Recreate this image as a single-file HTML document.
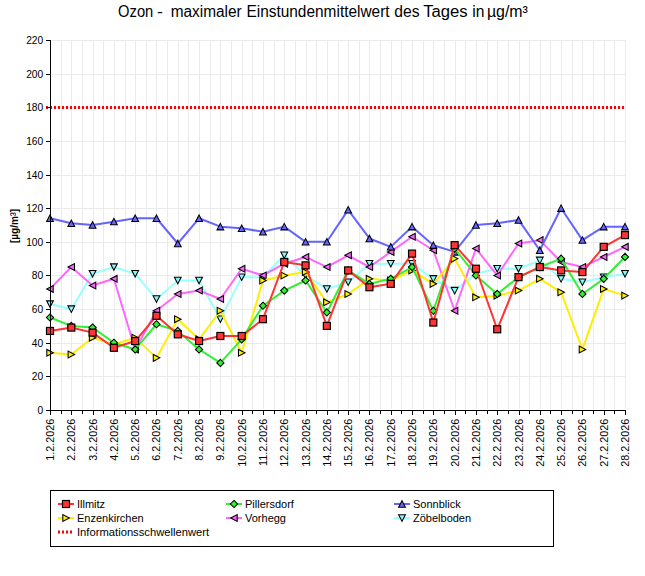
<!DOCTYPE html>
<html><head><meta charset="utf-8"><style>
html,body{margin:0;padding:0;background:#fff;}
body{width:645px;height:576px;overflow:hidden;}
svg{display:block;font-family:"Liberation Sans",sans-serif;}
</style></head><body>
<svg width="645" height="576" viewBox="0 0 645 576">
<rect width="645" height="576" fill="#fff"/>

<text x="118.10" y="17" font-size="16" textLength="35.15" lengthAdjust="spacingAndGlyphs" fill="#000">Ozon</text>
<text x="157.02" y="17" font-size="16" textLength="5.87" lengthAdjust="spacingAndGlyphs" fill="#000">-</text>
<text x="170.68" y="17" font-size="16" textLength="71.08" lengthAdjust="spacingAndGlyphs" fill="#000">maximaler</text>
<text x="246.43" y="17" font-size="16" textLength="143.18" lengthAdjust="spacingAndGlyphs" fill="#000">Einstundenmittelwert</text>
<text x="394.34" y="17" font-size="16" textLength="25.22" lengthAdjust="spacingAndGlyphs" fill="#000">des</text>
<text x="423.24" y="17" font-size="16" textLength="44.44" lengthAdjust="spacingAndGlyphs" fill="#000">Tages</text>
<text x="472.25" y="17" font-size="16" textLength="12.16" lengthAdjust="spacingAndGlyphs" fill="#000">in</text>
<text x="486.91" y="17" font-size="16" textLength="41.00" lengthAdjust="spacingAndGlyphs" fill="#000">µg/m³</text>
<path d="M61.5 40V409 M71.5 40V409 M82.5 40V409 M93.5 40V409 M103.5 40V409 M114.5 40V409 M125.5 40V409 M135.5 40V409 M146.5 40V409 M156.5 40V409 M167.5 40V409 M178.5 40V409 M188.5 40V409 M199.5 40V409 M210.5 40V409 M220.5 40V409 M231.5 40V409 M242.5 40V409 M252.5 40V409 M263.5 40V409 M274.5 40V409 M284.5 40V409 M295.5 40V409 M306.5 40V409 M316.5 40V409 M327.5 40V409 M338.5 40V409 M348.5 40V409 M359.5 40V409 M369.5 40V409 M380.5 40V409 M391.5 40V409 M401.5 40V409 M412.5 40V409 M423.5 40V409 M433.5 40V409 M444.5 40V409 M455.5 40V409 M465.5 40V409 M476.5 40V409 M487.5 40V409 M497.5 40V409 M508.5 40V409 M519.5 40V409 M529.5 40V409 M540.5 40V409 M550.5 40V409 M561.5 40V409 M572.5 40V409 M582.5 40V409 M593.5 40V409 M604.5 40V409 M614.5 40V409 M625.5 40V409 M52 376.5H625 M52 343.5H625 M52 309.5H625 M52 275.5H625 M52 242.5H625 M52 208.5H625 M52 175.5H625 M52 141.5H625 M52 107.5H625 M52 74.5H625 M52 40.5H625" stroke="#ebebeb" stroke-width="1" fill="none" shape-rendering="crispEdges"/>
<path d="M46 107.5H625" stroke="#ff0000" stroke-width="3" stroke-dasharray="2 2" fill="none"/>
<text transform="translate(43.2,414.00) scale(0.93,1)" font-size="11" text-anchor="end" fill="#000">0</text>
<text transform="translate(43.2,380.36) scale(0.93,1)" font-size="11" text-anchor="end" fill="#000">20</text>
<text transform="translate(43.2,346.73) scale(0.93,1)" font-size="11" text-anchor="end" fill="#000">40</text>
<text transform="translate(43.2,313.09) scale(0.93,1)" font-size="11" text-anchor="end" fill="#000">60</text>
<text transform="translate(43.2,279.45) scale(0.93,1)" font-size="11" text-anchor="end" fill="#000">80</text>
<text transform="translate(43.2,245.82) scale(0.93,1)" font-size="11" text-anchor="end" fill="#000">100</text>
<text transform="translate(43.2,212.18) scale(0.93,1)" font-size="11" text-anchor="end" fill="#000">120</text>
<text transform="translate(43.2,178.55) scale(0.93,1)" font-size="11" text-anchor="end" fill="#000">140</text>
<text transform="translate(43.2,144.91) scale(0.93,1)" font-size="11" text-anchor="end" fill="#000">160</text>
<text transform="translate(43.2,111.27) scale(0.93,1)" font-size="11" text-anchor="end" fill="#000">180</text>
<text transform="translate(43.2,77.64) scale(0.93,1)" font-size="11" text-anchor="end" fill="#000">200</text>
<text transform="translate(43.2,44.00) scale(0.93,1)" font-size="11" text-anchor="end" fill="#000">220</text>
<text transform="translate(18.4,226.0) rotate(-90)" font-size="10" font-weight="bold" text-anchor="middle" fill="#000">[µg/m<tspan font-size="12" font-weight="normal" dx="-0.2" dy="0.6">³</tspan><tspan dy="-0.6">]</tspan></text>
<text transform="translate(54.00,418.8) rotate(-90) scale(0.98,0.92)" font-size="11" text-anchor="end" fill="#000">1.2.2026</text>
<text transform="translate(75.30,418.8) rotate(-90) scale(0.98,0.92)" font-size="11" text-anchor="end" fill="#000">2.2.2026</text>
<text transform="translate(96.59,418.8) rotate(-90) scale(0.98,0.92)" font-size="11" text-anchor="end" fill="#000">3.2.2026</text>
<text transform="translate(117.89,418.8) rotate(-90) scale(0.98,0.92)" font-size="11" text-anchor="end" fill="#000">4.2.2026</text>
<text transform="translate(139.19,418.8) rotate(-90) scale(0.98,0.92)" font-size="11" text-anchor="end" fill="#000">5.2.2026</text>
<text transform="translate(160.48,418.8) rotate(-90) scale(0.98,0.92)" font-size="11" text-anchor="end" fill="#000">6.2.2026</text>
<text transform="translate(181.78,418.8) rotate(-90) scale(0.98,0.92)" font-size="11" text-anchor="end" fill="#000">7.2.2026</text>
<text transform="translate(203.07,418.8) rotate(-90) scale(0.98,0.92)" font-size="11" text-anchor="end" fill="#000">8.2.2026</text>
<text transform="translate(224.37,418.8) rotate(-90) scale(0.98,0.92)" font-size="11" text-anchor="end" fill="#000">9.2.2026</text>
<text transform="translate(245.67,418.8) rotate(-90) scale(0.98,0.92)" font-size="11" text-anchor="end" fill="#000">10.2.2026</text>
<text transform="translate(266.96,418.8) rotate(-90) scale(0.98,0.92)" font-size="11" text-anchor="end" fill="#000">11.2.2026</text>
<text transform="translate(288.26,418.8) rotate(-90) scale(0.98,0.92)" font-size="11" text-anchor="end" fill="#000">12.2.2026</text>
<text transform="translate(309.56,418.8) rotate(-90) scale(0.98,0.92)" font-size="11" text-anchor="end" fill="#000">13.2.2026</text>
<text transform="translate(330.85,418.8) rotate(-90) scale(0.98,0.92)" font-size="11" text-anchor="end" fill="#000">14.2.2026</text>
<text transform="translate(352.15,418.8) rotate(-90) scale(0.98,0.92)" font-size="11" text-anchor="end" fill="#000">15.2.2026</text>
<text transform="translate(373.44,418.8) rotate(-90) scale(0.98,0.92)" font-size="11" text-anchor="end" fill="#000">16.2.2026</text>
<text transform="translate(394.74,418.8) rotate(-90) scale(0.98,0.92)" font-size="11" text-anchor="end" fill="#000">17.2.2026</text>
<text transform="translate(416.04,418.8) rotate(-90) scale(0.98,0.92)" font-size="11" text-anchor="end" fill="#000">18.2.2026</text>
<text transform="translate(437.33,418.8) rotate(-90) scale(0.98,0.92)" font-size="11" text-anchor="end" fill="#000">19.2.2026</text>
<text transform="translate(458.63,418.8) rotate(-90) scale(0.98,0.92)" font-size="11" text-anchor="end" fill="#000">20.2.2026</text>
<text transform="translate(479.93,418.8) rotate(-90) scale(0.98,0.92)" font-size="11" text-anchor="end" fill="#000">21.2.2026</text>
<text transform="translate(501.22,418.8) rotate(-90) scale(0.98,0.92)" font-size="11" text-anchor="end" fill="#000">22.2.2026</text>
<text transform="translate(522.52,418.8) rotate(-90) scale(0.98,0.92)" font-size="11" text-anchor="end" fill="#000">23.2.2026</text>
<text transform="translate(543.81,418.8) rotate(-90) scale(0.98,0.92)" font-size="11" text-anchor="end" fill="#000">24.2.2026</text>
<text transform="translate(565.11,418.8) rotate(-90) scale(0.98,0.92)" font-size="11" text-anchor="end" fill="#000">25.2.2026</text>
<text transform="translate(586.41,418.8) rotate(-90) scale(0.98,0.92)" font-size="11" text-anchor="end" fill="#000">26.2.2026</text>
<text transform="translate(607.70,418.8) rotate(-90) scale(0.98,0.92)" font-size="11" text-anchor="end" fill="#000">27.2.2026</text>
<text transform="translate(629.00,418.8) rotate(-90) scale(0.98,0.92)" font-size="11" text-anchor="end" fill="#000">28.2.2026</text>
<polyline points="50.00,304.05 71.30,309.09 92.59,273.77 113.89,267.05 135.19,273.77 156.48,299.00 177.78,280.50 199.07,280.50 220.37,319.18 241.67,277.14 262.96,277.14 284.26,255.27 305.56,275.45 326.85,288.91 348.15,282.18 369.44,263.68 390.74,263.68 412.04,263.68 433.33,278.82 454.63,290.59 475.93,273.77 497.22,268.73 518.52,268.73 539.81,260.32 561.11,278.82 582.41,282.18 603.70,277.14 625.00,273.77" fill="none" stroke="#99ffff" stroke-width="2.0" stroke-linejoin="round"/>
<polygon points="50.00,307.35 53.40,300.85 46.60,300.85" fill="#8cf6f6" stroke="#000" stroke-width="1.05" stroke-linejoin="miter"/>
<polygon points="71.30,312.39 74.70,305.89 67.90,305.89" fill="#8cf6f6" stroke="#000" stroke-width="1.05" stroke-linejoin="miter"/>
<polygon points="92.59,277.07 95.99,270.57 89.19,270.57" fill="#8cf6f6" stroke="#000" stroke-width="1.05" stroke-linejoin="miter"/>
<polygon points="113.89,270.35 117.29,263.85 110.49,263.85" fill="#8cf6f6" stroke="#000" stroke-width="1.05" stroke-linejoin="miter"/>
<polygon points="135.19,277.07 138.59,270.57 131.79,270.57" fill="#8cf6f6" stroke="#000" stroke-width="1.05" stroke-linejoin="miter"/>
<polygon points="156.48,302.30 159.88,295.80 153.08,295.80" fill="#8cf6f6" stroke="#000" stroke-width="1.05" stroke-linejoin="miter"/>
<polygon points="177.78,283.80 181.18,277.30 174.38,277.30" fill="#8cf6f6" stroke="#000" stroke-width="1.05" stroke-linejoin="miter"/>
<polygon points="199.07,283.80 202.47,277.30 195.67,277.30" fill="#8cf6f6" stroke="#000" stroke-width="1.05" stroke-linejoin="miter"/>
<polygon points="220.37,322.48 223.77,315.98 216.97,315.98" fill="#8cf6f6" stroke="#000" stroke-width="1.05" stroke-linejoin="miter"/>
<polygon points="241.67,280.44 245.07,273.94 238.27,273.94" fill="#8cf6f6" stroke="#000" stroke-width="1.05" stroke-linejoin="miter"/>
<polygon points="262.96,280.44 266.36,273.94 259.56,273.94" fill="#8cf6f6" stroke="#000" stroke-width="1.05" stroke-linejoin="miter"/>
<polygon points="284.26,258.57 287.66,252.07 280.86,252.07" fill="#8cf6f6" stroke="#000" stroke-width="1.05" stroke-linejoin="miter"/>
<polygon points="305.56,278.75 308.96,272.25 302.16,272.25" fill="#8cf6f6" stroke="#000" stroke-width="1.05" stroke-linejoin="miter"/>
<polygon points="326.85,292.21 330.25,285.71 323.45,285.71" fill="#8cf6f6" stroke="#000" stroke-width="1.05" stroke-linejoin="miter"/>
<polygon points="348.15,285.48 351.55,278.98 344.75,278.98" fill="#8cf6f6" stroke="#000" stroke-width="1.05" stroke-linejoin="miter"/>
<polygon points="369.44,266.98 372.84,260.48 366.04,260.48" fill="#8cf6f6" stroke="#000" stroke-width="1.05" stroke-linejoin="miter"/>
<polygon points="390.74,266.98 394.14,260.48 387.34,260.48" fill="#8cf6f6" stroke="#000" stroke-width="1.05" stroke-linejoin="miter"/>
<polygon points="412.04,266.98 415.44,260.48 408.64,260.48" fill="#8cf6f6" stroke="#000" stroke-width="1.05" stroke-linejoin="miter"/>
<polygon points="433.33,282.12 436.73,275.62 429.93,275.62" fill="#8cf6f6" stroke="#000" stroke-width="1.05" stroke-linejoin="miter"/>
<polygon points="454.63,293.89 458.03,287.39 451.23,287.39" fill="#8cf6f6" stroke="#000" stroke-width="1.05" stroke-linejoin="miter"/>
<polygon points="475.93,277.07 479.33,270.57 472.53,270.57" fill="#8cf6f6" stroke="#000" stroke-width="1.05" stroke-linejoin="miter"/>
<polygon points="497.22,272.03 500.62,265.53 493.82,265.53" fill="#8cf6f6" stroke="#000" stroke-width="1.05" stroke-linejoin="miter"/>
<polygon points="518.52,272.03 521.92,265.53 515.12,265.53" fill="#8cf6f6" stroke="#000" stroke-width="1.05" stroke-linejoin="miter"/>
<polygon points="539.81,263.62 543.21,257.12 536.41,257.12" fill="#8cf6f6" stroke="#000" stroke-width="1.05" stroke-linejoin="miter"/>
<polygon points="561.11,282.12 564.51,275.62 557.71,275.62" fill="#8cf6f6" stroke="#000" stroke-width="1.05" stroke-linejoin="miter"/>
<polygon points="582.41,285.48 585.81,278.98 579.01,278.98" fill="#8cf6f6" stroke="#000" stroke-width="1.05" stroke-linejoin="miter"/>
<polygon points="603.70,280.44 607.10,273.94 600.30,273.94" fill="#8cf6f6" stroke="#000" stroke-width="1.05" stroke-linejoin="miter"/>
<polygon points="625.00,277.07 628.40,270.57 621.60,270.57" fill="#8cf6f6" stroke="#000" stroke-width="1.05" stroke-linejoin="miter"/>
<polyline points="50.00,288.91 71.30,267.05 92.59,285.55 113.89,278.82 135.19,349.45 156.48,310.77 177.78,293.95 199.07,290.59 220.37,299.00 241.67,268.73 262.96,275.45 284.26,263.68 305.56,256.95 326.85,267.05 348.15,255.27 369.44,267.05 390.74,251.91 412.04,236.77 433.33,250.23 454.63,310.77 475.93,248.55 497.22,275.45 518.52,243.50 539.81,240.14 561.11,262.00 582.41,267.05 603.70,256.95 625.00,246.86" fill="none" stroke="#ff66ff" stroke-width="2.0" stroke-linejoin="round"/>
<polygon points="46.70,288.91 53.20,292.31 53.20,285.51" fill="#f266f2" stroke="#000" stroke-width="1.05" stroke-linejoin="miter"/>
<polygon points="68.00,267.05 74.50,270.45 74.50,263.65" fill="#f266f2" stroke="#000" stroke-width="1.05" stroke-linejoin="miter"/>
<polygon points="89.29,285.55 95.79,288.95 95.79,282.15" fill="#f266f2" stroke="#000" stroke-width="1.05" stroke-linejoin="miter"/>
<polygon points="110.59,278.82 117.09,282.22 117.09,275.42" fill="#f266f2" stroke="#000" stroke-width="1.05" stroke-linejoin="miter"/>
<polygon points="131.89,349.45 138.39,352.85 138.39,346.05" fill="#f266f2" stroke="#000" stroke-width="1.05" stroke-linejoin="miter"/>
<polygon points="153.18,310.77 159.68,314.17 159.68,307.37" fill="#f266f2" stroke="#000" stroke-width="1.05" stroke-linejoin="miter"/>
<polygon points="174.48,293.95 180.98,297.35 180.98,290.55" fill="#f266f2" stroke="#000" stroke-width="1.05" stroke-linejoin="miter"/>
<polygon points="195.77,290.59 202.27,293.99 202.27,287.19" fill="#f266f2" stroke="#000" stroke-width="1.05" stroke-linejoin="miter"/>
<polygon points="217.07,299.00 223.57,302.40 223.57,295.60" fill="#f266f2" stroke="#000" stroke-width="1.05" stroke-linejoin="miter"/>
<polygon points="238.37,268.73 244.87,272.13 244.87,265.33" fill="#f266f2" stroke="#000" stroke-width="1.05" stroke-linejoin="miter"/>
<polygon points="259.66,275.45 266.16,278.85 266.16,272.05" fill="#f266f2" stroke="#000" stroke-width="1.05" stroke-linejoin="miter"/>
<polygon points="280.96,263.68 287.46,267.08 287.46,260.28" fill="#f266f2" stroke="#000" stroke-width="1.05" stroke-linejoin="miter"/>
<polygon points="302.26,256.95 308.76,260.35 308.76,253.55" fill="#f266f2" stroke="#000" stroke-width="1.05" stroke-linejoin="miter"/>
<polygon points="323.55,267.05 330.05,270.45 330.05,263.65" fill="#f266f2" stroke="#000" stroke-width="1.05" stroke-linejoin="miter"/>
<polygon points="344.85,255.27 351.35,258.67 351.35,251.87" fill="#f266f2" stroke="#000" stroke-width="1.05" stroke-linejoin="miter"/>
<polygon points="366.14,267.05 372.64,270.45 372.64,263.65" fill="#f266f2" stroke="#000" stroke-width="1.05" stroke-linejoin="miter"/>
<polygon points="387.44,251.91 393.94,255.31 393.94,248.51" fill="#f266f2" stroke="#000" stroke-width="1.05" stroke-linejoin="miter"/>
<polygon points="408.74,236.77 415.24,240.17 415.24,233.37" fill="#f266f2" stroke="#000" stroke-width="1.05" stroke-linejoin="miter"/>
<polygon points="430.03,250.23 436.53,253.63 436.53,246.83" fill="#f266f2" stroke="#000" stroke-width="1.05" stroke-linejoin="miter"/>
<polygon points="451.33,310.77 457.83,314.17 457.83,307.37" fill="#f266f2" stroke="#000" stroke-width="1.05" stroke-linejoin="miter"/>
<polygon points="472.63,248.55 479.13,251.95 479.13,245.15" fill="#f266f2" stroke="#000" stroke-width="1.05" stroke-linejoin="miter"/>
<polygon points="493.92,275.45 500.42,278.85 500.42,272.05" fill="#f266f2" stroke="#000" stroke-width="1.05" stroke-linejoin="miter"/>
<polygon points="515.22,243.50 521.72,246.90 521.72,240.10" fill="#f266f2" stroke="#000" stroke-width="1.05" stroke-linejoin="miter"/>
<polygon points="536.51,240.14 543.01,243.54 543.01,236.74" fill="#f266f2" stroke="#000" stroke-width="1.05" stroke-linejoin="miter"/>
<polygon points="557.81,262.00 564.31,265.40 564.31,258.60" fill="#f266f2" stroke="#000" stroke-width="1.05" stroke-linejoin="miter"/>
<polygon points="579.11,267.05 585.61,270.45 585.61,263.65" fill="#f266f2" stroke="#000" stroke-width="1.05" stroke-linejoin="miter"/>
<polygon points="600.40,256.95 606.90,260.35 606.90,253.55" fill="#f266f2" stroke="#000" stroke-width="1.05" stroke-linejoin="miter"/>
<polygon points="621.70,246.86 628.20,250.26 628.20,243.46" fill="#f266f2" stroke="#000" stroke-width="1.05" stroke-linejoin="miter"/>
<polyline points="50.00,352.82 71.30,354.50 92.59,337.68 113.89,344.41 135.19,337.68 156.48,357.86 177.78,319.18 199.07,339.36 220.37,310.77 241.67,352.82 262.96,280.50 284.26,275.45 305.56,272.09 326.85,302.36 348.15,293.95 369.44,278.82 390.74,280.50 412.04,270.41 433.33,283.86 454.63,258.64 475.93,297.32 497.22,295.64 518.52,290.59 539.81,278.82 561.11,292.27 582.41,349.45 603.70,288.91 625.00,295.64" fill="none" stroke="#ffee00" stroke-width="2.0" stroke-linejoin="round"/>
<polygon points="53.30,352.82 46.80,356.22 46.80,349.42" fill="#ffee00" stroke="#000" stroke-width="1.05" stroke-linejoin="miter"/>
<polygon points="74.60,354.50 68.10,357.90 68.10,351.10" fill="#ffee00" stroke="#000" stroke-width="1.05" stroke-linejoin="miter"/>
<polygon points="95.89,337.68 89.39,341.08 89.39,334.28" fill="#ffee00" stroke="#000" stroke-width="1.05" stroke-linejoin="miter"/>
<polygon points="117.19,344.41 110.69,347.81 110.69,341.01" fill="#ffee00" stroke="#000" stroke-width="1.05" stroke-linejoin="miter"/>
<polygon points="138.49,337.68 131.99,341.08 131.99,334.28" fill="#ffee00" stroke="#000" stroke-width="1.05" stroke-linejoin="miter"/>
<polygon points="159.78,357.86 153.28,361.26 153.28,354.46" fill="#ffee00" stroke="#000" stroke-width="1.05" stroke-linejoin="miter"/>
<polygon points="181.08,319.18 174.58,322.58 174.58,315.78" fill="#ffee00" stroke="#000" stroke-width="1.05" stroke-linejoin="miter"/>
<polygon points="202.37,339.36 195.87,342.76 195.87,335.96" fill="#ffee00" stroke="#000" stroke-width="1.05" stroke-linejoin="miter"/>
<polygon points="223.67,310.77 217.17,314.17 217.17,307.37" fill="#ffee00" stroke="#000" stroke-width="1.05" stroke-linejoin="miter"/>
<polygon points="244.97,352.82 238.47,356.22 238.47,349.42" fill="#ffee00" stroke="#000" stroke-width="1.05" stroke-linejoin="miter"/>
<polygon points="266.26,280.50 259.76,283.90 259.76,277.10" fill="#ffee00" stroke="#000" stroke-width="1.05" stroke-linejoin="miter"/>
<polygon points="287.56,275.45 281.06,278.85 281.06,272.05" fill="#ffee00" stroke="#000" stroke-width="1.05" stroke-linejoin="miter"/>
<polygon points="308.86,272.09 302.36,275.49 302.36,268.69" fill="#ffee00" stroke="#000" stroke-width="1.05" stroke-linejoin="miter"/>
<polygon points="330.15,302.36 323.65,305.76 323.65,298.96" fill="#ffee00" stroke="#000" stroke-width="1.05" stroke-linejoin="miter"/>
<polygon points="351.45,293.95 344.95,297.35 344.95,290.55" fill="#ffee00" stroke="#000" stroke-width="1.05" stroke-linejoin="miter"/>
<polygon points="372.74,278.82 366.24,282.22 366.24,275.42" fill="#ffee00" stroke="#000" stroke-width="1.05" stroke-linejoin="miter"/>
<polygon points="394.04,280.50 387.54,283.90 387.54,277.10" fill="#ffee00" stroke="#000" stroke-width="1.05" stroke-linejoin="miter"/>
<polygon points="415.34,270.41 408.84,273.81 408.84,267.01" fill="#ffee00" stroke="#000" stroke-width="1.05" stroke-linejoin="miter"/>
<polygon points="436.63,283.86 430.13,287.26 430.13,280.46" fill="#ffee00" stroke="#000" stroke-width="1.05" stroke-linejoin="miter"/>
<polygon points="457.93,258.64 451.43,262.04 451.43,255.24" fill="#ffee00" stroke="#000" stroke-width="1.05" stroke-linejoin="miter"/>
<polygon points="479.23,297.32 472.73,300.72 472.73,293.92" fill="#ffee00" stroke="#000" stroke-width="1.05" stroke-linejoin="miter"/>
<polygon points="500.52,295.64 494.02,299.04 494.02,292.24" fill="#ffee00" stroke="#000" stroke-width="1.05" stroke-linejoin="miter"/>
<polygon points="521.82,290.59 515.32,293.99 515.32,287.19" fill="#ffee00" stroke="#000" stroke-width="1.05" stroke-linejoin="miter"/>
<polygon points="543.11,278.82 536.61,282.22 536.61,275.42" fill="#ffee00" stroke="#000" stroke-width="1.05" stroke-linejoin="miter"/>
<polygon points="564.41,292.27 557.91,295.67 557.91,288.87" fill="#ffee00" stroke="#000" stroke-width="1.05" stroke-linejoin="miter"/>
<polygon points="585.71,349.45 579.21,352.85 579.21,346.05" fill="#ffee00" stroke="#000" stroke-width="1.05" stroke-linejoin="miter"/>
<polygon points="607.00,288.91 600.50,292.31 600.50,285.51" fill="#ffee00" stroke="#000" stroke-width="1.05" stroke-linejoin="miter"/>
<polygon points="628.30,295.64 621.80,299.04 621.80,292.24" fill="#ffee00" stroke="#000" stroke-width="1.05" stroke-linejoin="miter"/>
<polyline points="50.00,218.27 71.30,223.32 92.59,225.00 113.89,221.64 135.19,218.27 156.48,218.27 177.78,243.50 199.07,218.27 220.37,226.68 241.67,228.36 262.96,231.73 284.26,226.68 305.56,241.82 326.85,241.82 348.15,209.86 369.44,238.45 390.74,246.86 412.04,226.68 433.33,245.18 454.63,251.91 475.93,225.00 497.22,223.32 518.52,219.95 539.81,250.23 561.11,208.18 582.41,240.14 603.70,226.68 625.00,226.68" fill="none" stroke="#6464ff" stroke-width="2.0" stroke-linejoin="round"/>
<polygon points="50.00,214.97 53.40,221.47 46.60,221.47" fill="#6666ff" stroke="#000" stroke-width="1.05" stroke-linejoin="miter"/>
<polygon points="71.30,220.02 74.70,226.52 67.90,226.52" fill="#6666ff" stroke="#000" stroke-width="1.05" stroke-linejoin="miter"/>
<polygon points="92.59,221.70 95.99,228.20 89.19,228.20" fill="#6666ff" stroke="#000" stroke-width="1.05" stroke-linejoin="miter"/>
<polygon points="113.89,218.34 117.29,224.84 110.49,224.84" fill="#6666ff" stroke="#000" stroke-width="1.05" stroke-linejoin="miter"/>
<polygon points="135.19,214.97 138.59,221.47 131.79,221.47" fill="#6666ff" stroke="#000" stroke-width="1.05" stroke-linejoin="miter"/>
<polygon points="156.48,214.97 159.88,221.47 153.08,221.47" fill="#6666ff" stroke="#000" stroke-width="1.05" stroke-linejoin="miter"/>
<polygon points="177.78,240.20 181.18,246.70 174.38,246.70" fill="#6666ff" stroke="#000" stroke-width="1.05" stroke-linejoin="miter"/>
<polygon points="199.07,214.97 202.47,221.47 195.67,221.47" fill="#6666ff" stroke="#000" stroke-width="1.05" stroke-linejoin="miter"/>
<polygon points="220.37,223.38 223.77,229.88 216.97,229.88" fill="#6666ff" stroke="#000" stroke-width="1.05" stroke-linejoin="miter"/>
<polygon points="241.67,225.06 245.07,231.56 238.27,231.56" fill="#6666ff" stroke="#000" stroke-width="1.05" stroke-linejoin="miter"/>
<polygon points="262.96,228.43 266.36,234.93 259.56,234.93" fill="#6666ff" stroke="#000" stroke-width="1.05" stroke-linejoin="miter"/>
<polygon points="284.26,223.38 287.66,229.88 280.86,229.88" fill="#6666ff" stroke="#000" stroke-width="1.05" stroke-linejoin="miter"/>
<polygon points="305.56,238.52 308.96,245.02 302.16,245.02" fill="#6666ff" stroke="#000" stroke-width="1.05" stroke-linejoin="miter"/>
<polygon points="326.85,238.52 330.25,245.02 323.45,245.02" fill="#6666ff" stroke="#000" stroke-width="1.05" stroke-linejoin="miter"/>
<polygon points="348.15,206.56 351.55,213.06 344.75,213.06" fill="#6666ff" stroke="#000" stroke-width="1.05" stroke-linejoin="miter"/>
<polygon points="369.44,235.15 372.84,241.65 366.04,241.65" fill="#6666ff" stroke="#000" stroke-width="1.05" stroke-linejoin="miter"/>
<polygon points="390.74,243.56 394.14,250.06 387.34,250.06" fill="#6666ff" stroke="#000" stroke-width="1.05" stroke-linejoin="miter"/>
<polygon points="412.04,223.38 415.44,229.88 408.64,229.88" fill="#6666ff" stroke="#000" stroke-width="1.05" stroke-linejoin="miter"/>
<polygon points="433.33,241.88 436.73,248.38 429.93,248.38" fill="#6666ff" stroke="#000" stroke-width="1.05" stroke-linejoin="miter"/>
<polygon points="454.63,248.61 458.03,255.11 451.23,255.11" fill="#6666ff" stroke="#000" stroke-width="1.05" stroke-linejoin="miter"/>
<polygon points="475.93,221.70 479.33,228.20 472.53,228.20" fill="#6666ff" stroke="#000" stroke-width="1.05" stroke-linejoin="miter"/>
<polygon points="497.22,220.02 500.62,226.52 493.82,226.52" fill="#6666ff" stroke="#000" stroke-width="1.05" stroke-linejoin="miter"/>
<polygon points="518.52,216.65 521.92,223.15 515.12,223.15" fill="#6666ff" stroke="#000" stroke-width="1.05" stroke-linejoin="miter"/>
<polygon points="539.81,246.93 543.21,253.43 536.41,253.43" fill="#6666ff" stroke="#000" stroke-width="1.05" stroke-linejoin="miter"/>
<polygon points="561.11,204.88 564.51,211.38 557.71,211.38" fill="#6666ff" stroke="#000" stroke-width="1.05" stroke-linejoin="miter"/>
<polygon points="582.41,236.84 585.81,243.34 579.01,243.34" fill="#6666ff" stroke="#000" stroke-width="1.05" stroke-linejoin="miter"/>
<polygon points="603.70,223.38 607.10,229.88 600.30,229.88" fill="#6666ff" stroke="#000" stroke-width="1.05" stroke-linejoin="miter"/>
<polygon points="625.00,223.38 628.40,229.88 621.60,229.88" fill="#6666ff" stroke="#000" stroke-width="1.05" stroke-linejoin="miter"/>
<polyline points="50.00,317.50 71.30,325.91 92.59,327.59 113.89,342.73 135.19,349.45 156.48,324.23 177.78,330.95 199.07,349.45 220.37,362.91 241.67,339.36 262.96,305.73 284.26,290.59 305.56,280.50 326.85,312.45 348.15,270.41 369.44,283.86 390.74,278.82 412.04,267.05 433.33,310.77 454.63,248.55 475.93,275.45 497.22,293.95 518.52,277.14 539.81,267.05 561.11,258.64 582.41,293.95 603.70,278.82 625.00,256.95" fill="none" stroke="#33ee33" stroke-width="2.0" stroke-linejoin="round"/>
<polygon points="50.00,313.90 53.60,317.50 50.00,321.10 46.40,317.50" fill="#33f033" stroke="#000" stroke-width="1.05" stroke-linejoin="miter"/>
<polygon points="71.30,322.31 74.90,325.91 71.30,329.51 67.70,325.91" fill="#33f033" stroke="#000" stroke-width="1.05" stroke-linejoin="miter"/>
<polygon points="92.59,323.99 96.19,327.59 92.59,331.19 88.99,327.59" fill="#33f033" stroke="#000" stroke-width="1.05" stroke-linejoin="miter"/>
<polygon points="113.89,339.13 117.49,342.73 113.89,346.33 110.29,342.73" fill="#33f033" stroke="#000" stroke-width="1.05" stroke-linejoin="miter"/>
<polygon points="135.19,345.85 138.79,349.45 135.19,353.05 131.59,349.45" fill="#33f033" stroke="#000" stroke-width="1.05" stroke-linejoin="miter"/>
<polygon points="156.48,320.63 160.08,324.23 156.48,327.83 152.88,324.23" fill="#33f033" stroke="#000" stroke-width="1.05" stroke-linejoin="miter"/>
<polygon points="177.78,327.35 181.38,330.95 177.78,334.55 174.18,330.95" fill="#33f033" stroke="#000" stroke-width="1.05" stroke-linejoin="miter"/>
<polygon points="199.07,345.85 202.67,349.45 199.07,353.05 195.47,349.45" fill="#33f033" stroke="#000" stroke-width="1.05" stroke-linejoin="miter"/>
<polygon points="220.37,359.31 223.97,362.91 220.37,366.51 216.77,362.91" fill="#33f033" stroke="#000" stroke-width="1.05" stroke-linejoin="miter"/>
<polygon points="241.67,335.76 245.27,339.36 241.67,342.96 238.07,339.36" fill="#33f033" stroke="#000" stroke-width="1.05" stroke-linejoin="miter"/>
<polygon points="262.96,302.13 266.56,305.73 262.96,309.33 259.36,305.73" fill="#33f033" stroke="#000" stroke-width="1.05" stroke-linejoin="miter"/>
<polygon points="284.26,286.99 287.86,290.59 284.26,294.19 280.66,290.59" fill="#33f033" stroke="#000" stroke-width="1.05" stroke-linejoin="miter"/>
<polygon points="305.56,276.90 309.16,280.50 305.56,284.10 301.96,280.50" fill="#33f033" stroke="#000" stroke-width="1.05" stroke-linejoin="miter"/>
<polygon points="326.85,308.85 330.45,312.45 326.85,316.05 323.25,312.45" fill="#33f033" stroke="#000" stroke-width="1.05" stroke-linejoin="miter"/>
<polygon points="348.15,266.81 351.75,270.41 348.15,274.01 344.55,270.41" fill="#33f033" stroke="#000" stroke-width="1.05" stroke-linejoin="miter"/>
<polygon points="369.44,280.26 373.04,283.86 369.44,287.46 365.84,283.86" fill="#33f033" stroke="#000" stroke-width="1.05" stroke-linejoin="miter"/>
<polygon points="390.74,275.22 394.34,278.82 390.74,282.42 387.14,278.82" fill="#33f033" stroke="#000" stroke-width="1.05" stroke-linejoin="miter"/>
<polygon points="412.04,263.45 415.64,267.05 412.04,270.65 408.44,267.05" fill="#33f033" stroke="#000" stroke-width="1.05" stroke-linejoin="miter"/>
<polygon points="433.33,307.17 436.93,310.77 433.33,314.37 429.73,310.77" fill="#33f033" stroke="#000" stroke-width="1.05" stroke-linejoin="miter"/>
<polygon points="454.63,244.95 458.23,248.55 454.63,252.15 451.03,248.55" fill="#33f033" stroke="#000" stroke-width="1.05" stroke-linejoin="miter"/>
<polygon points="475.93,271.85 479.53,275.45 475.93,279.05 472.33,275.45" fill="#33f033" stroke="#000" stroke-width="1.05" stroke-linejoin="miter"/>
<polygon points="497.22,290.35 500.82,293.95 497.22,297.55 493.62,293.95" fill="#33f033" stroke="#000" stroke-width="1.05" stroke-linejoin="miter"/>
<polygon points="518.52,273.54 522.12,277.14 518.52,280.74 514.92,277.14" fill="#33f033" stroke="#000" stroke-width="1.05" stroke-linejoin="miter"/>
<polygon points="539.81,263.45 543.41,267.05 539.81,270.65 536.21,267.05" fill="#33f033" stroke="#000" stroke-width="1.05" stroke-linejoin="miter"/>
<polygon points="561.11,255.04 564.71,258.64 561.11,262.24 557.51,258.64" fill="#33f033" stroke="#000" stroke-width="1.05" stroke-linejoin="miter"/>
<polygon points="582.41,290.35 586.01,293.95 582.41,297.55 578.81,293.95" fill="#33f033" stroke="#000" stroke-width="1.05" stroke-linejoin="miter"/>
<polygon points="603.70,275.22 607.30,278.82 603.70,282.42 600.10,278.82" fill="#33f033" stroke="#000" stroke-width="1.05" stroke-linejoin="miter"/>
<polygon points="625.00,253.35 628.60,256.95 625.00,260.55 621.40,256.95" fill="#33f033" stroke="#000" stroke-width="1.05" stroke-linejoin="miter"/>
<polyline points="50.00,330.95 71.30,327.59 92.59,332.64 113.89,347.77 135.19,341.05 156.48,315.82 177.78,334.32 199.07,341.05 220.37,336.00 241.67,336.00 262.96,319.18 284.26,262.00 305.56,265.36 326.85,325.91 348.15,270.41 369.44,287.23 390.74,283.86 412.04,253.59 433.33,322.55 454.63,245.18 475.93,268.73 497.22,329.27 518.52,277.14 539.81,267.05 561.11,270.41 582.41,272.09 603.70,246.86 625.00,235.09" fill="none" stroke="#ff3333" stroke-width="2.0" stroke-linejoin="round"/>
<rect x="46.50" y="327.45" width="7" height="7" fill="#ff3333" stroke="#000" stroke-width="1.2"/>
<rect x="67.80" y="324.09" width="7" height="7" fill="#ff3333" stroke="#000" stroke-width="1.2"/>
<rect x="89.09" y="329.14" width="7" height="7" fill="#ff3333" stroke="#000" stroke-width="1.2"/>
<rect x="110.39" y="344.27" width="7" height="7" fill="#ff3333" stroke="#000" stroke-width="1.2"/>
<rect x="131.69" y="337.55" width="7" height="7" fill="#ff3333" stroke="#000" stroke-width="1.2"/>
<rect x="152.98" y="312.32" width="7" height="7" fill="#ff3333" stroke="#000" stroke-width="1.2"/>
<rect x="174.28" y="330.82" width="7" height="7" fill="#ff3333" stroke="#000" stroke-width="1.2"/>
<rect x="195.57" y="337.55" width="7" height="7" fill="#ff3333" stroke="#000" stroke-width="1.2"/>
<rect x="216.87" y="332.50" width="7" height="7" fill="#ff3333" stroke="#000" stroke-width="1.2"/>
<rect x="238.17" y="332.50" width="7" height="7" fill="#ff3333" stroke="#000" stroke-width="1.2"/>
<rect x="259.46" y="315.68" width="7" height="7" fill="#ff3333" stroke="#000" stroke-width="1.2"/>
<rect x="280.76" y="258.50" width="7" height="7" fill="#ff3333" stroke="#000" stroke-width="1.2"/>
<rect x="302.06" y="261.86" width="7" height="7" fill="#ff3333" stroke="#000" stroke-width="1.2"/>
<rect x="323.35" y="322.41" width="7" height="7" fill="#ff3333" stroke="#000" stroke-width="1.2"/>
<rect x="344.65" y="266.91" width="7" height="7" fill="#ff3333" stroke="#000" stroke-width="1.2"/>
<rect x="365.94" y="283.73" width="7" height="7" fill="#ff3333" stroke="#000" stroke-width="1.2"/>
<rect x="387.24" y="280.36" width="7" height="7" fill="#ff3333" stroke="#000" stroke-width="1.2"/>
<rect x="408.54" y="250.09" width="7" height="7" fill="#ff3333" stroke="#000" stroke-width="1.2"/>
<rect x="429.83" y="319.05" width="7" height="7" fill="#ff3333" stroke="#000" stroke-width="1.2"/>
<rect x="451.13" y="241.68" width="7" height="7" fill="#ff3333" stroke="#000" stroke-width="1.2"/>
<rect x="472.43" y="265.23" width="7" height="7" fill="#ff3333" stroke="#000" stroke-width="1.2"/>
<rect x="493.72" y="325.77" width="7" height="7" fill="#ff3333" stroke="#000" stroke-width="1.2"/>
<rect x="515.02" y="273.64" width="7" height="7" fill="#ff3333" stroke="#000" stroke-width="1.2"/>
<rect x="536.31" y="263.55" width="7" height="7" fill="#ff3333" stroke="#000" stroke-width="1.2"/>
<rect x="557.61" y="266.91" width="7" height="7" fill="#ff3333" stroke="#000" stroke-width="1.2"/>
<rect x="578.91" y="268.59" width="7" height="7" fill="#ff3333" stroke="#000" stroke-width="1.2"/>
<rect x="600.20" y="243.36" width="7" height="7" fill="#ff3333" stroke="#000" stroke-width="1.2"/>
<rect x="621.50" y="231.59" width="7" height="7" fill="#ff3333" stroke="#000" stroke-width="1.2"/>
<path d="M50.5 40V415 M46 410.5H626 M46 410.5H50 M46 376.5H50 M46 343.5H50 M46 309.5H50 M46 275.5H50 M46 242.5H50 M46 208.5H50 M46 175.5H50 M46 141.5H50 M46 107.5H50 M46 74.5H50 M46 40.5H50 M50.5 411V415 M61.5 411V414 M71.5 411V415 M82.5 411V414 M93.5 411V415 M103.5 411V414 M114.5 411V415 M125.5 411V414 M135.5 411V415 M146.5 411V414 M156.5 411V415 M167.5 411V414 M178.5 411V415 M188.5 411V414 M199.5 411V415 M210.5 411V414 M220.5 411V415 M231.5 411V414 M242.5 411V415 M252.5 411V414 M263.5 411V415 M274.5 411V414 M284.5 411V415 M295.5 411V414 M306.5 411V415 M316.5 411V414 M327.5 411V415 M338.5 411V414 M348.5 411V415 M359.5 411V414 M369.5 411V415 M380.5 411V414 M391.5 411V415 M401.5 411V414 M412.5 411V415 M423.5 411V414 M433.5 411V415 M444.5 411V414 M455.5 411V415 M465.5 411V414 M476.5 411V415 M487.5 411V414 M497.5 411V415 M508.5 411V414 M519.5 411V415 M529.5 411V414 M540.5 411V415 M550.5 411V414 M561.5 411V415 M572.5 411V414 M582.5 411V415 M593.5 411V414 M604.5 411V415 M614.5 411V414 M625.5 411V415" stroke="#000" stroke-width="1" fill="none" shape-rendering="crispEdges"/>
<rect x="50.5" y="490.5" width="503" height="56" fill="none" stroke="#000" stroke-width="1" shape-rendering="crispEdges"/>
<path d="M58 504H74" stroke="#ff3333" stroke-width="2"/>
<rect x="62.50" y="500.50" width="7" height="7" fill="#ff3333" stroke="#000" stroke-width="1.2"/>
<text x="77" y="508" font-size="11" fill="#000">Illmitz</text>
<path d="M226 504H242" stroke="#33ee33" stroke-width="2"/>
<polygon points="234.00,500.40 237.60,504.00 234.00,507.60 230.40,504.00" fill="#33f033" stroke="#000" stroke-width="1.05" stroke-linejoin="miter"/>
<text x="245" y="508" font-size="11" fill="#000">Pillersdorf</text>
<path d="M394 504H410" stroke="#6464ff" stroke-width="2"/>
<polygon points="402.00,500.70 405.40,507.20 398.60,507.20" fill="#6666ff" stroke="#000" stroke-width="1.05" stroke-linejoin="miter"/>
<text x="413" y="508" font-size="11" fill="#000">Sonnblick</text>
<path d="M58 518H74" stroke="#ffee00" stroke-width="2"/>
<polygon points="69.30,518.00 62.80,521.40 62.80,514.60" fill="#ffee00" stroke="#000" stroke-width="1.05" stroke-linejoin="miter"/>
<text x="77" y="522" font-size="11" fill="#000">Enzenkirchen</text>
<path d="M226 518H242" stroke="#ff66ff" stroke-width="2"/>
<polygon points="230.70,518.00 237.20,521.40 237.20,514.60" fill="#f266f2" stroke="#000" stroke-width="1.05" stroke-linejoin="miter"/>
<text x="245" y="522" font-size="11" fill="#000">Vorhegg</text>
<path d="M394 518H410" stroke="#99ffff" stroke-width="2"/>
<polygon points="402.00,521.30 405.40,514.80 398.60,514.80" fill="#8cf6f6" stroke="#000" stroke-width="1.05" stroke-linejoin="miter"/>
<text x="413" y="522" font-size="11" fill="#000">Zöbelboden</text>
<path d="M58 532H72" stroke="#ff0000" stroke-width="3" stroke-dasharray="2 2"/>
<text x="77" y="536" font-size="11" textLength="132.2" lengthAdjust="spacingAndGlyphs" fill="#000">Informationsschwellenwert</text>
</svg></body></html>
